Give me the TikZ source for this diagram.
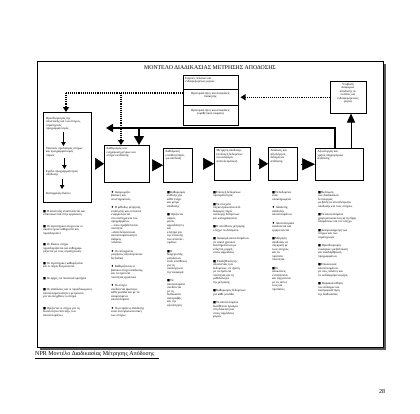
\documentclass[tikz,border=0pt]{standalone}
\usepackage{fontspec}
\setmainfont{Liberation Serif}
\newfontfamily\symf{DejaVu Sans}
\usetikzlibrary{arrows.meta,calc}
\newcommand\ft{\fontsize{3.1}{3.5}\selectfont}
\newcommand\bs{{\symf\char"25A0}}
\newcommand\bd{{\symf\char"2666}}
\newcommand\gp{\\[5pt]}
\newcommand\gpl{\\[8pt]}
\begin{document}
\begin{tikzpicture}[x=1pt,y=-1pt,
  box/.style={draw,line width=0.5pt,anchor=north west,inner sep=0pt},
  btxt/.style={anchor=north west,inner sep=0pt,align=left,font=\ft},
  ctxt/.style={anchor=north,inner sep=0pt,align=center,font=\ft},
  coltxt/.style={anchor=north west,inner sep=0pt,align=left,font=\ft},
  fb/.style={line width=1.3pt},
  dots/.style={line width=1.1pt,dash pattern=on 1pt off 0.9pt},
  sarr/.style={line width=0.8pt,-{Triangle[length=4pt,width=4.5pt]}}
]
\useasboundingbox (0,0) rectangle (420,413);
\fill[white] (0,0) rectangle (420,413);
% frame with shadow
\fill[black!65] (40,64) rectangle (386,350);
\draw[fill=white,line width=0.6pt] (37,61) rectangle (383,347);
% title
\node[font=\fontsize{5.8}{6.5}\selectfont,inner sep=0pt] (title) at (210,68) {ΜΟΝΤΕΛΟ ΔΙΑΔΙΚΑΣΙΑΣ ΜΕΤΡΗΣΗΣ ΑΠΟΔΟΣΗΣ};
% stacked boxes
\node[box,minimum width=55pt,minimum height=14pt] (S1) at (183,75) {};
\node[box,minimum width=55pt,minimum height=16pt] (S2) at (183,89) {};
\node[box,minimum width=55pt,minimum height=20pt] (S3) at (183,105) {};
\node[btxt] (s1t) at (185,77) {Εισροές πελατών και\\ενδιαφερομένων μερών};
\node[ctxt] (s2t) at (210.5,92) {Προτεραιότητες και αποφάσεις\\διοίκησης};
\node[ctxt] (s3t) at (210.5,109) {Προτεραιότητες και αποφάσεις\\νομοθετικού σώματος};
% top right box
\node[box,minimum width=36pt,minimum height=32pt] (R) at (330,81) {};
\node[ctxt] (rt) at (348,83) {Υποβολή\\αναφορών\\απόδοσης σε\\πελάτες και\\ενδιαφερόμενους\\φορείς};
% left box
\node[box,minimum width=48pt,minimum height=90pt] (L) at (43,112) {};
\node[btxt] (l1) at (46,117) {Προσδιορισμός της\\αποστολής και των στόχων,\\στρατηγικός\\προγραμματισμός};
\node[btxt] (l2) at (46,147) {Τακτικός σχεδιασμός στόχων\\και προγραμματισμός\\πόρων};
\node[btxt] (l3) at (46,170) {Σχέδιο προγραμματισμού\\απόδοσης};
\node[btxt] (l4) at (46,192) {Καταγραφή πλάνου};
\draw[sarr] ([yshift=-1pt]l1.south) -- ([yshift=1pt]l1.south |- l2.north);
\draw[sarr] ([yshift=-1pt]l2.south) -- ([yshift=1pt]l2.south |- l3.north);
\draw[sarr] ([yshift=-2pt]l3.south) -- ([yshift=3pt]l3.south |- l4.north);
% main boxes
\node[box,minimum width=45pt,minimum height=37pt] (b2) at (104,145) {};
\node[box,minimum width=29pt,minimum height=34pt] (b3) at (163,148) {};
\node[box,minimum width=36pt,minimum height=33pt] (b4) at (214,147) {};
\node[box,minimum width=29pt,minimum height=33pt] (b5) at (268,147) {};
\node[box,minimum width=48pt,minimum height=32pt] (b6) at (315,148) {};
\node[btxt] (b2t) at (106.5,147.5) {Καθορισμός και\\ενημέρωση μέτρων και\\στόχων απόδοσης};
\node[btxt] (b3t) at (165.5,150.5) {Καθιέρωση\\υπευθυνότητας\\για απόδοση};
\node[btxt] (b4t) at (216.5,149.5) {Μέτρηση απόδοσης\\(συλλογή δεδομένων\\και αναφορά\\αποτελεσμάτων)};
\node[btxt] (b5t) at (270.5,149.5) {Ανάλυση και\\αξιολόγηση\\δεδομένων\\απόδοσης};
\node[btxt] (b6t) at (317.5,150.5) {Αξιολόγηση και\\χρήση πληροφοριών\\απόδοσης};
% big triangles between boxes
\draw[line width=0.5pt,-{Triangle[length=9pt,width=12pt]},shorten <=4pt] (L.east |- b2.west) -- (b2.west);
\draw[line width=0.5pt,-{Triangle[length=11pt,width=12pt]},shorten <=2.5pt] (b2.east |- b3.west) -- (b3.west);
\draw[line width=0.5pt,-{Triangle[length=11pt,width=12pt]},shorten <=10pt] (b3.east |- b4.west) -- (b4.west);
\draw[line width=0.5pt,-{Triangle[length=9pt,width=11pt]},shorten <=7pt] (b4.east |- b5.west) -- (b5.west);
\draw[line width=0.5pt,-{Triangle[length=13pt,width=12pt]},shorten <=3pt] (b5.east |- b6.west) -- (b6.west);
% feedback line
\coordinate (fbL) at (106,128);
\coordinate (fbR) at (335,128);
\coordinate (j1) at (139,128);
\coordinate (u1) at (351,128);
\draw[fb,-{Triangle[length=7pt,width=8pt]}] (fbR |- b6.north) -- (fbR) -- (fbL);
\draw[fb,-{Triangle[length=9pt,width=10pt]}] (j1) -- (j1 |- b2.north);
\draw[line width=1pt,-{Triangle[length=9pt,width=8pt]}] (u1 |- b6.north) -- (u1 |- R.south);
% dotted lines
\coordinate (dl) at (66,93);
\coordinate (dm) at (121,93);
\draw[dots] (dl -| S2.west) -- (dl);
\draw[dots,-{Triangle[length=5pt,width=6pt]}] (dl) -- (dl |- L.north);
\draw[dots,-{Triangle[length=5pt,width=6pt]}] (dm) -- (dm |- b2.north);
\draw[dots,-{Triangle[length=5pt,width=6pt]},shorten >=2pt] (R.west) -- (R.west -| S2.east);
% bullet columns
\node[coltxt] (c1) at (43,210) {\bs\ Η αποστολή αναπτύσσεται και\\επικοινωνείται στην οργάνωση\gpl
\bs\ Οι στρατηγικοί στόχοι και οι\\σκοποί έχουν καθοριστεί και\\προσδιοριστεί\gpl
\bs\ Οι δίκαιοι στόχοι\\προσδιορίζονται και ευθυγραμ-\\μίζονται με τους στρατηγικούς\gpl
\bs\ Οι στρατηγικές καθορίζονται\\και οι πόροι δεσμεύονται\gpl
\bs\ Οι αρχές, τα ποσοτικά κριτήρια\gpl
\bs\ Οι αποδόσεις και οι προσδοκώμενες\\αποτελεσματικότητες μετρώνται\\για να ελεγχθούν οι στόχοι\gpl
\bs\ Ορίζονται οι στόχοι για τη\\δυνατότητα επίτευξης των\\αποτελεσμάτων};
\node[coltxt] (c2) at (111,191) {\bd\ Αναγνωρίζει\\βασικές και\\υποστηρικτικές.\gp
\bd\ Η μέθοδος μέτρησης\\επιλέγεται και οι σκοποί\\εναρμονίζονται\\στο σύστημα και του\\προγράμματος\\– όπου προβλέπονται\\ποιότητα\\–αποτελέσματα και\\αποτελεσματικότητα\\ανάγκες\\πελατών\gp
\bd\ Οι επιλεγμένες\\μετρήσεις αξιολογούνται\\διεξοδικά\gp
\bd\ Καθορίζονται οι\\βασικοί στόχοι απόδοσης\\και τα πρότυπα\\ποιότητας εργασιών\gp
\bd\ Οι στόχοι\\συνδέονται άμεσα με\\κάθε μονάδα και με τα\\αναμενόμενα\\αποτελέσματα\gp
\bd\ Οι μετρήσεις απόδοσης\\είναι αντιπροσωπευτικές\\των στόχων};
\node[coltxt] (c3) at (167,191) {\bs Καθορισμός\\ευθύνης για\\κάθε στόχο\\και μέτρο\\απόδοσης\gp
\bs\ Ορίζονται\\σαφείς\\ρόλοι,\\αρμοδιότητες\\και\\κίνητρα για\\την επίτευξη\\των αποτελε-\\σμάτων\gp
\bs Ο\\διαχειριστής\\μετρήσεων\\είναι υπεύθυνος\\για τη\\συλλογή και\\την αναφορά\gp
\bs Τα\\αποτελέσματα\\συνδέονται\\με τη\\διαδικασία\\ανταμοιβής\\και την\\αξιολόγηση};
\node[coltxt] (c4) at (213,191) {\bs Επιλογή δεδομένων\\προτεραιότητας\gp
\bs Τα στοιχεία\\συγκεντρώνονται από\\διάφορες πηγές\\συλλογής δεδομένων\\και καταγράφονται\gp
\bs Ο υπεύθυνος μέτρησης\\ελέγχει τα δεδομένα\gp
\bs\ Αναφορά αποτελεσμάτων\\σε τακτά χρονικά\\διαστήματα και με\\εύληπτη μορφή\\στους αρμοδίους\gp
\bs\ Επαλήθευση της\\αξιοπιστίας των\\δεδομένων, σε σχέση\\με τα πρότυπα\\ποιότητας και τη\\μεθοδολογία\\της μέτρησης\gp
\bs Καθορισμός δεδομένων\\για κάθε μονάδα\gp
\bs Τα αποτελέσματα\\διατίθενται έγκαιρα\\στη διοίκηση και\\στους αρμόδιους\\φορείς};
\node[coltxt] (c5) at (272,191) {\bs Τα δεδομένα\\είναι\\ολοκληρωμένα\gp
\bd\ Αναλυτής\\ανάλυσης\\αποτελεσμάτων\gp
\bd\ Αποτελέσματα\\αναλύονται και\\ερμηνεύονται\gp
\bs Μέτρηση\\απόδοσης σε\\σύγκριση με\\τους στόχους\\και τα\\πρότυπα\\ποιότητας\gp
\bs Οι\\αποκλίσεις\\εντοπίζονται\\και εξηγούνται\\με τις αιτίες\\τους και\\προτάσεις};
\node[coltxt] (c6) at (318,191) {\bs Βελτίωση\\των διαδικασιών\\λειτουργίας\\με βάση τα αποτελέσματα\\απόδοσης και τους στόχους\gp
\bs Τα αποτελέσματα\\χρησιμοποιούνται για τη λήψη\\αποφάσεων και τον έλεγχο\gp
\bs Αναπροσαρμογή των\\στόχων και των\\στρατηγικών\gp
\bs\ Προσδιορισμός\\ευκαιριών για βελτίωση\\και αναδιάρθρωση\\προγραμμάτων\gp
\bs Επικοινωνία\\αποτελεσμάτων\\με τους πελάτες και\\τα ενδιαφερόμενα μέρη\gp
\bs\ Παρακολούθηση\\των αλλαγών και\\ανατροφοδότηση\\της διαδικασίας};
% caption and page number
\node[anchor=west,inner sep=0pt,font=\fontsize{6}{7}\selectfont] (cap) at (35,355) {\underline{NPR Μοντέλο Διαδικασίας Μέτρησης Απόδοσης\ \ \ }};
\node[inner sep=0pt,font=\fontsize{6}{7}\selectfont] (pg) at (382,392) {28};
\end{tikzpicture}
\end{document}
